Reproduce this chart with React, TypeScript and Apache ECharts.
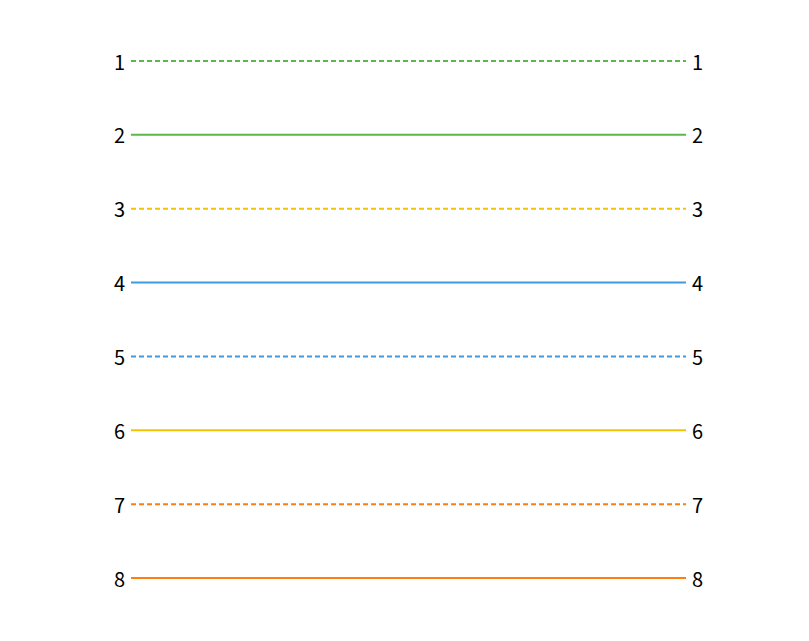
import React, { useEffect, useRef } from 'react';
import * as echarts from 'echarts';

const ranks = [1, 2, 3, 4, 5, 6, 7, 8];
const xPoints = ['start', 'end'];
const seriesColors = ['#5ab946', '#5ab946', '#f5c400', '#3e9be0', '#3e9be0', '#f5c400', '#ff7f0e', '#ff7f0e'];
const seriesDashed = [true, false, true, false, true, false, true, false];

export default function App() {
  const ref = useRef<HTMLDivElement>(null);

  useEffect(() => {
    if (!ref.current) return;
    const chart = echarts.init(ref.current, null, { renderer: 'svg' });
    const axisLabel = { color: '#000', fontSize: 20, fontFamily: 'Noto Sans CJK JP', margin: 6 };
    chart.setOption({
      animation: false,
      grid: { left: 123, right: 115, top: 53, bottom: 55 },
      xAxis: { type: 'category', data: xPoints, boundaryGap: false, show: false },
      yAxis: [
        {
          type: 'value', min: 1, max: 8, interval: 1, inverse: true, position: 'left',
          axisLine: { show: false }, axisTick: { show: false }, splitLine: { show: false }, axisLabel,
        },
        {
          type: 'value', min: 1, max: 8, interval: 1, inverse: true, position: 'right',
          axisLine: { show: false }, axisTick: { show: false }, splitLine: { show: false }, axisLabel,
        },
      ],
      series: ranks.map((r, i) => ({
        type: 'line',
        data: xPoints.map(() => r),
        showSymbol: false,
        lineStyle: { color: seriesColors[i], width: 2, type: seriesDashed[i] ? [5, 3] : 'solid' },
      })),
    });
    return () => chart.dispose();
  }, []);

  return <div ref={ref} style={{ width: 793, height: 625 }} />;
}
